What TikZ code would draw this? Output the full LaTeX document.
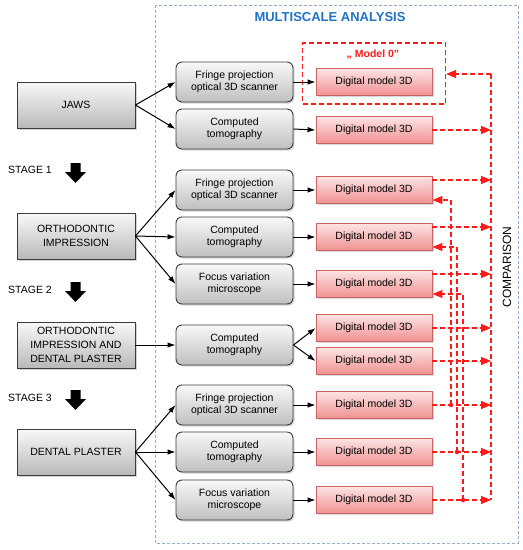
\documentclass[tikz,border=0pt]{standalone}
\usepackage{fontspec}
\setmainfont{Liberation Sans}
\usetikzlibrary{arrows.meta,shadows}
\definecolor{boxborder}{HTML}{3C3C3C}
\definecolor{dmborder}{HTML}{C86464}
\definecolor{dmtop}{HTML}{FDE4E4}
\definecolor{dmbot}{HTML}{F09090}
\definecolor{cmpred}{HTML}{FF1A1A}
\definecolor{titleblue}{HTML}{1F72C4}
\definecolor{framegray}{HTML}{98AECB}
\tikzset{
  base/.style={font=\fontsize{10.5}{12.5}\selectfont, align=center, inner sep=1pt},
  srcbox/.style={base, draw=boxborder, line width=0.9pt, top color=gray!5, bottom color=gray!55,
    minimum width=118pt, minimum height=46pt, font=\fontsize{10.5}{14}\selectfont,
    drop shadow={opacity=0.35, shadow xshift=1.5pt, shadow yshift=-1.5pt}},
  midbox/.style={base, draw=boxborder, line width=0.9pt, rounded corners=6pt, top color=gray!5, bottom color=gray!50,
    minimum width=117pt, minimum height=40pt,
    drop shadow={opacity=0.35, shadow xshift=1.5pt, shadow yshift=-1.5pt}},
  dmbox/.style={base, draw=dmborder, line width=0.9pt, top color=dmtop, bottom color=dmbot,
    minimum width=116pt, minimum height=27pt,
    drop shadow={opacity=0.3, shadow xshift=1.5pt, shadow yshift=-1.5pt}},
  blk/.style={line width=1pt, -{Latex[length=8pt,width=5.5pt]}},
  cmpline/.style={draw=cmpred, line width=1.3pt, dash pattern=on 5pt off 3pt},
  cmparr/.style={cmpline, -{Triangle[length=10pt,width=8pt]}},
  dotnode/.style={circle, fill=cmpred, inner sep=0pt, minimum size=4.5pt},
}
\begin{document}
\begin{tikzpicture}[x=1pt,y=-1pt]
\useasboundingbox (0,0) rectangle (523,550);
% outer frame
\draw[framegray, line width=1pt, dash pattern=on 3pt off 2pt] (155,5) rectangle (518,543);
\node[font=\bfseries\fontsize{13}{15}\selectfont, text=titleblue] (title) at (330,17) {MULTISCALE ANALYSIS};

% left source boxes
\node[srcbox] (jaws) at (76,105) {JAWS};
\node[srcbox] (oi) at (76,236) {ORTHODONTIC\\IMPRESSION};
\node[srcbox] (oidp) at (76,345) {ORTHODONTIC\\IMPRESSION AND\\DENTAL PLASTER};
\node[srcbox] (dp) at (76,452) {DENTAL PLASTER};

% stage labels and arrows
\node[base, anchor=west, font=\fontsize{10.5}{12}\selectfont] (s1) at (7,170) {STAGE 1};
\node[base, anchor=west, font=\fontsize{10.5}{12}\selectfont] (s2) at (7,290) {STAGE 2};
\node[base, anchor=west, font=\fontsize{10.5}{12}\selectfont] (s3) at (7,398) {STAGE 3};
\foreach \yy in {163,282,390}{
  \fill (70.5,\yy) -- (80.5,\yy) -- (80.5,\yy+9) -- (86,\yy+9) -- (75.5,\yy+20) -- (65,\yy+9) -- (70.5,\yy+9) -- cycle;
}

% middle method boxes
\node[midbox] (fr1) at (234.5,82) {Fringe projection\\optical 3D scanner};
\node[midbox] (ct1) at (234.5,129) {Computed\\tomography};
\node[midbox] (fr2) at (234.5,190) {Fringe projection\\optical 3D scanner};
\node[midbox] (ct2) at (234.5,237) {Computed\\tomography};
\node[midbox] (fv1) at (234.5,284) {Focus variation\\microscope};
\node[midbox] (ct3) at (234.5,345) {Computed\\tomography};
\node[midbox] (fr3) at (234.5,405) {Fringe projection\\optical 3D scanner};
\node[midbox] (ct4) at (234.5,452) {Computed\\tomography};
\node[midbox] (fv2) at (234.5,500) {Focus variation\\microscope};

% digital models
\node[dmbox] (dm1) at (374,82) {Digital model 3D};
\node[dmbox] (dm2) at (374,130) {Digital model 3D};
\node[dmbox] (dm3) at (374,190) {Digital model 3D};
\node[dmbox] (dm4) at (374,237) {Digital model 3D};
\node[dmbox] (dm5) at (374,284) {Digital model 3D};
\node[dmbox] (dm6) at (374,328) {Digital model 3D};
\node[dmbox] (dm7) at (374,361) {Digital model 3D};
\node[dmbox] (dm8) at (374,405) {Digital model 3D};
\node[dmbox] (dm9) at (374,452) {Digital model 3D};
\node[dmbox] (dm10) at (374,500) {Digital model 3D};

% model 0 frame
\node[draw=cmpred, line width=1.3pt, dash pattern=on 5pt off 3pt, minimum width=143pt, minimum height=61pt, inner sep=0pt] (m0) at (374,73.5) {};
\node[font=\bfseries\fontsize{10.5}{12}\selectfont, text=cmpred] (m0lab) at (373,55) {„ Model 0”};

% black connectors
\draw[blk] (jaws.east) -- (fr1.west);
\draw[blk] (jaws.east) -- (ct1.west);
\draw[blk] (oi.east) -- (fr2.west);
\draw[blk] (oi.east) -- (ct2.west);
\draw[blk] (oi.east) -- (fv1.west);
\draw[blk] (oidp.east) -- (ct3.west);
\draw[blk] (dp.east) -- (fr3.west);
\draw[blk] (dp.east) -- (ct4.west);
\draw[blk] (dp.east) -- (fv2.west);
\draw[blk] (fr1.east) -- (dm1.west);
\draw[blk] (ct1.east) -- (dm2.west);
\draw[blk] (fr2.east) -- (dm3.west);
\draw[blk] (ct2.east) -- (dm4.west);
\draw[blk] (fv1.east) -- (dm5.west);
\draw[blk] (ct3.east) -- (dm6.west);
\draw[blk] (ct3.east) -- (dm7.west);
\draw[blk] (fr3.east) -- (dm8.west);
\draw[blk] (ct4.east) -- (dm9.west);
\draw[blk] (fv2.east) -- (dm10.west);

% comparison line
\coordinate (ctop) at (491,74);
\coordinate (cbot) at (491,500);
\draw[cmpline] (ctop) -- (cbot);
\draw[cmparr] (ctop) -- (m0.east |- ctop);
\node[rotate=90, font=\fontsize{12}{14}\selectfont] (cmplab) at (507,267) {COMPARISON};

\draw[cmparr] (dm2.east) -- (dm2.east -| ctop);
\draw[cmparr] ([yshift=10pt]dm3.east) -- ([yshift=10pt]dm3.east -| ctop);
\draw[cmparr] ([yshift=10pt]dm4.east) -- ([yshift=10pt]dm4.east -| ctop);
\draw[cmparr] ([yshift=10pt]dm5.east) -- ([yshift=10pt]dm5.east -| ctop);
\draw[cmparr] (dm6.east) -- (dm6.east -| ctop);
\draw[cmparr] (dm7.east) -- (dm7.east -| ctop);
\draw[cmparr] (dm8.east) -- (dm8.east -| ctop);
\draw[cmparr] (dm9.east) -- (dm9.east -| ctop);
\draw[cmparr] (dm10.east) -- (dm10.east -| ctop);

% stage-to-stage returns
\node[dotnode] (d8) at (451,405) {};
\node[dotnode] (d9) at (457,452) {};
\node[dotnode] (d10) at (463,500) {};
\draw[cmparr] (d8.center) |- ([yshift=-10pt]dm3.east);
\draw[cmparr] (d9.center) |- ([yshift=-10pt]dm4.east);
\draw[cmparr] (d10.center) |- ([yshift=-10pt]dm5.east);
\end{tikzpicture}
\end{document}
